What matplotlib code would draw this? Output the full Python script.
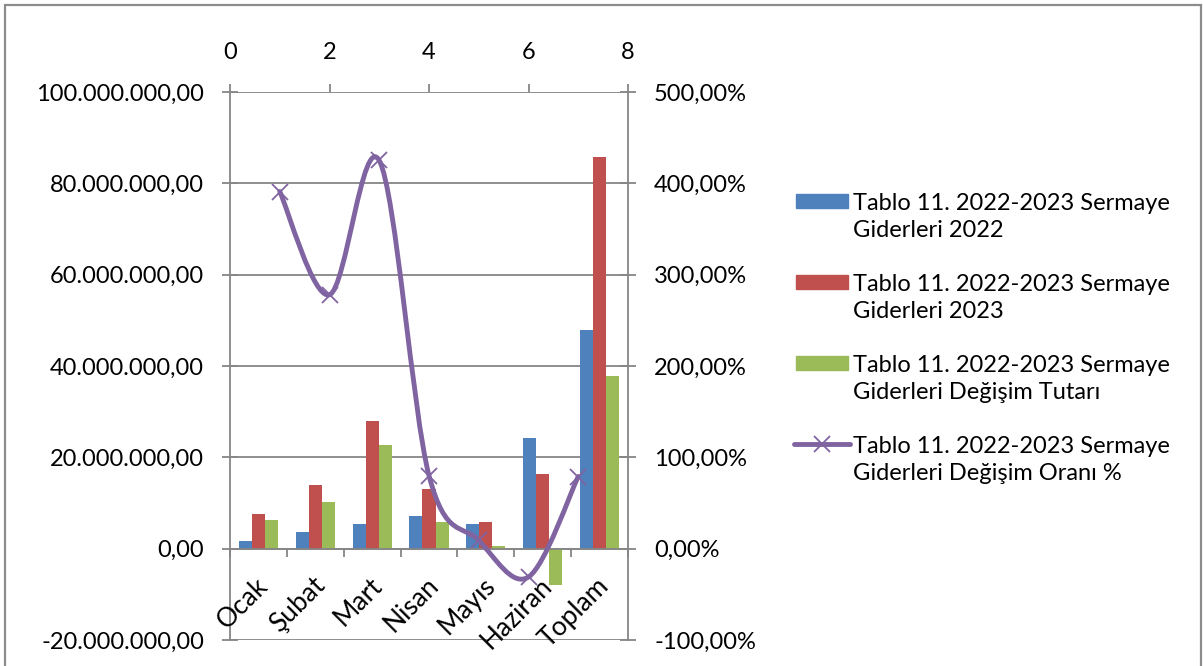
import matplotlib
matplotlib.use("Agg")
import matplotlib.pyplot as plt
from matplotlib.path import Path
from matplotlib.patches import PathPatch, Rectangle
from matplotlib.lines import Line2D
from matplotlib.ticker import FuncFormatter
from matplotlib.transforms import ScaledTranslation
import numpy as np

plt.rcParams['font.family'] = ['Lato', 'DejaVu Sans']

months = ["Ocak", "Şubat", "Mart", "Nisan", "Mayıs", "Haziran", "Toplam"]
giderler_2022 = [1.6e6, 3.6e6, 5.3e6, 7.1e6, 5.5e6, 24.3e6, 47.9e6]
giderler_2023 = [7.7e6, 14.0e6, 28.0e6, 13.1e6, 5.9e6, 16.4e6, 85.8e6]
degisim_tutari = [6.2e6, 10.3e6, 22.6e6, 5.8e6, 0.5e6, -8.0e6, 37.8e6]
oran_x = [1, 2, 3, 4, 5, 6, 7]
degisim_orani = [391, 278, 425, 80, 9, -31, 79]

series_names = [
    "Tablo 11. 2022-2023 Sermaye\nGiderleri 2022",
    "Tablo 11. 2022-2023 Sermaye\nGiderleri 2023",
    "Tablo 11. 2022-2023 Sermaye\nGiderleri Değişim Tutarı",
    "Tablo 11. 2022-2023 Sermaye\nGiderleri Değişim Oranı %",
]

BLUE = "#4F81BD"
RED = "#C0504D"
GREEN = "#9BBB59"
PURPLE = "#8064A2"
GRAY = "#868686"
FS = 17

W, H = 1203, 666


def fx(x):
    return x / W


def fy(y):
    return 1 - y / H


def tr_money(v, pos):
    s = "{:,.2f}".format(v)
    return s.replace(",", "X").replace(".", ",").replace("X", ".")


def tr_pct(v, pos):
    return "{:.2f}%".format(v).replace(".", ",")


def smooth_path(xs, ys):
    # excel-like smoothed line: catmull-rom turned into cubic bezier segments
    pts = list(zip(xs, ys))
    verts = [pts[0]]
    codes = [Path.MOVETO]
    n = len(pts)
    for i in range(n - 1):
        p0 = pts[max(i - 1, 0)]
        p1 = pts[i]
        p2 = pts[i + 1]
        p3 = pts[min(i + 2, n - 1)]
        c1 = (p1[0] + (p2[0] - p0[0]) / 6, p1[1] + (p2[1] - p0[1]) / 6)
        c2 = (p2[0] - (p3[0] - p1[0]) / 6, p2[1] - (p3[1] - p1[1]) / 6)
        verts += [c1, c2, p2]
        codes += [Path.CURVE4] * 3
    return Path(verts, codes)


fig = plt.figure(figsize=(W / 100, H / 100), dpi=100)
pos = [fx(230), fy(640), fx(628) - fx(230), fy(92) - fy(640)]

ax = fig.add_axes(pos)
ax.set_xlim(0, 7)
ax.set_ylim(-20e6, 100e6)
ax.set_yticks(np.arange(-20e6, 100e6 + 1, 20e6))
ax.yaxis.set_major_formatter(FuncFormatter(tr_money))
ax.yaxis.grid(True, color=GRAY, lw=1.3)
ax.set_axisbelow(True)

x = np.arange(len(months)) + 0.5
w = 0.229
ax.bar(x - w, giderler_2022, w, color=BLUE, zorder=2)
ax.bar(x, giderler_2023, w, color=RED, zorder=2)
ax.bar(x + w, degisim_tutari, w, color=GREEN, zorder=2)

for s in ["top", "right"]:
    ax.spines[s].set_visible(False)
ax.spines["left"].set_color(GRAY)
ax.spines["left"].set_linewidth(1.3)
ax.spines["bottom"].set_position(("data", 0))
ax.spines["bottom"].set_color(GRAY)
ax.spines["bottom"].set_linewidth(1.3)

ax.tick_params(axis="y", direction="inout", length=11.5, width=1.3, color=GRAY,
               labelsize=FS, pad=13)
ax.set_xticks(np.arange(0, 8))
ax.set_xticklabels([])
ax.tick_params(axis="x", which="major", direction="out", length=5.8, width=1.3, color=GRAY)

# rotated month labels under the zero line
shift = ScaledTranslation(-0.03, -0.24, fig.dpi_scale_trans)
for xi, m in zip(x, months):
    ax.text(xi, 0, m, fontsize=19, rotation=45, ha="right", va="top",
            rotation_mode="anchor", transform=ax.transData + shift, clip_on=False)

# secondary axes for the rate line: top x 0-8, right y %
ax2 = fig.add_axes(pos)
ax2.patch.set_visible(False)
ax2.set_xlim(0, 8)
ax2.set_ylim(-100, 500)
ax2.set_xticks([0, 2, 4, 6, 8])
ax2.set_yticks(np.arange(-100, 501, 100))
ax2.yaxis.set_major_formatter(FuncFormatter(tr_pct))
ax2.xaxis.tick_top()
ax2.yaxis.tick_right()
for s in ["top", "left", "bottom"]:
    ax2.spines[s].set_visible(False)
ax2.spines["right"].set_color(GRAY)
ax2.spines["right"].set_linewidth(1.3)
ax2.tick_params(axis="y", direction="inout", length=11.5, width=1.3, color=GRAY,
                labelsize=FS, pad=13)
ax2.tick_params(axis="x", direction="out", length=5.8, width=1.3, color=GRAY,
                labelsize=FS, pad=15)

ax2.add_patch(PathPatch(smooth_path(oran_x, degisim_orani), fill=False,
                        ec=PURPLE, lw=3.5, capstyle="round", zorder=3))
ax2.plot(oran_x, degisim_orani, ls="none", marker="x", ms=12, mew=1.3,
         color=PURPLE, zorder=4)

# legend drawn at the right
colors = [BLUE, RED, GREEN]
for i, name in enumerate(series_names):
    yc = 201 + 81 * i
    if i < 3:
        fig.patches.append(Rectangle((fx(796), fy(yc + 7)), fx(52), 14 / H,
                                     transform=fig.transFigure, color=colors[i]))
    else:
        fig.lines.append(Line2D([fx(794), fx(850)], [fy(yc), fy(yc)],
                                transform=fig.transFigure, color=PURPLE, lw=3.5,
                                solid_capstyle="round"))
        fig.lines.append(Line2D([fx(822)], [fy(yc)], transform=fig.transFigure,
                                marker="x", ms=12, mew=1.3, color=PURPLE))
    fig.text(fx(853), fy(yc + 16), name, fontsize=FS, va="center", ha="left",
             linespacing=1.4)

fig.patches.append(Rectangle((fx(5), -0.05), fx(1201) - fx(5), fy(5) + 0.05,
                             transform=fig.transFigure, fill=False,
                             ec="#8c8c8c", lw=1.6))

fig.savefig("out.png", dpi=100)
